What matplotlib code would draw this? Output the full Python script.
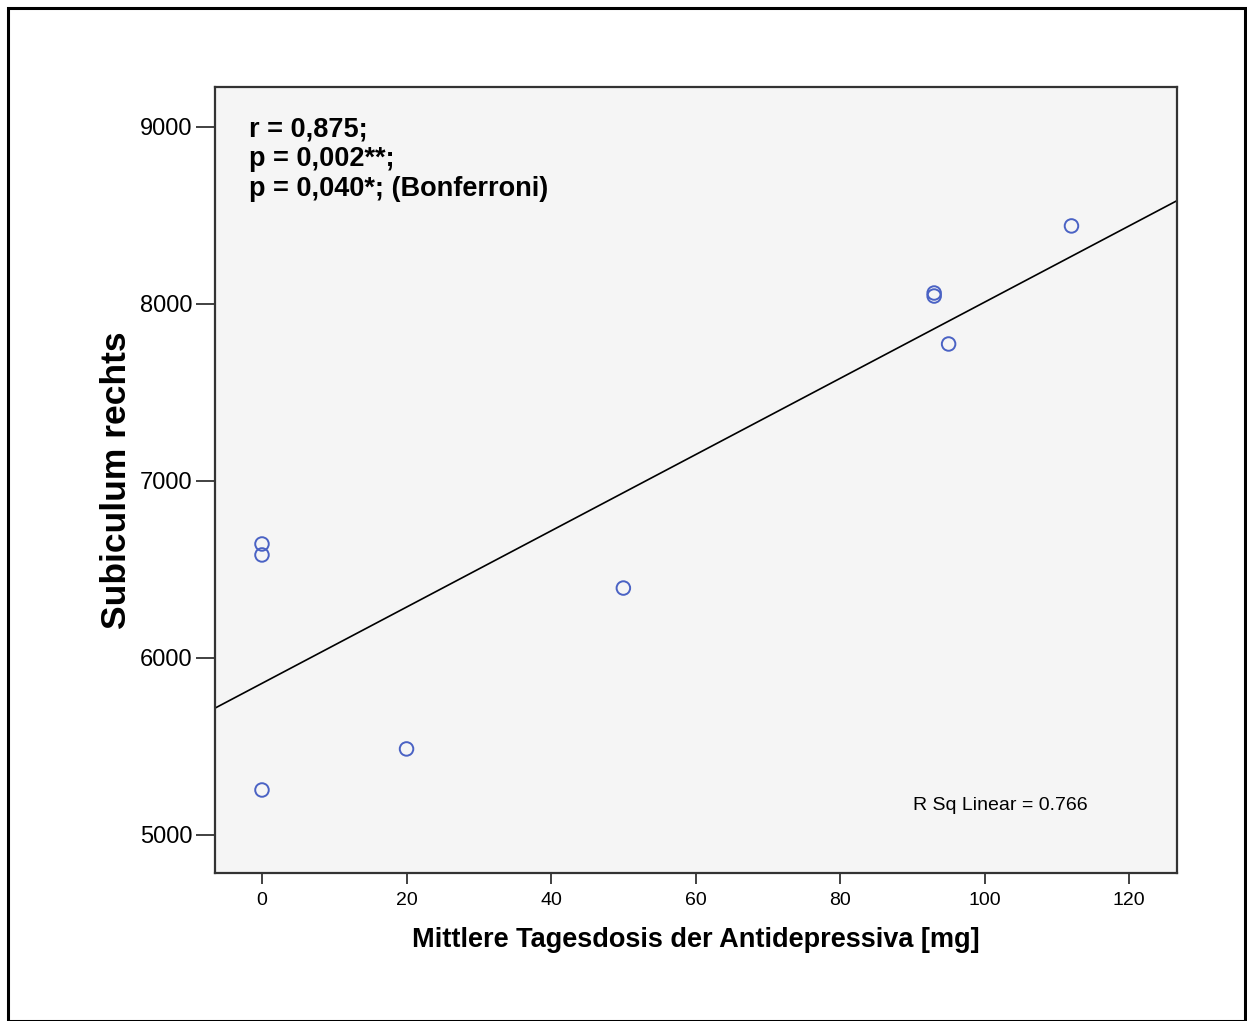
import matplotlib
matplotlib.use("Agg")
import matplotlib.pyplot as plt
import numpy as np
from matplotlib.patches import Rectangle

# Data
dose = [0, 0, 0, 20, 50, 93, 93, 95, 112]
subiculum = [6644, 6582, 5254, 5486, 6395, 8062, 8045, 7774, 8441]
xticks = [0, 20, 40, 60, 80, 100, 120]
yticks = [5000, 6000, 7000, 8000, 9000]
stats_lines = ["r = 0,875;", "p = 0,002**;", "p = 0,040*; (Bonferroni)"]
r2_text = "R Sq Linear = 0.766"
xlabel = "Mittlere Tagesdosis der Antidepressiva [mg]"
ylabel = "Subiculum rechts"

plt.rcParams['font.family'] = ['Liberation Sans', 'DejaVu Sans']

W, H = 1247, 1021
fig = plt.figure(figsize=(W / 100, H / 100), dpi=100)
fig.patch.set_facecolor('white')

# outer frame
fig.patches.append(Rectangle((8 / W, 0), (1245 - 8) / W, (H - 8) / H,
                             transform=fig.transFigure, fill=False,
                             edgecolor='black', linewidth=2.2))

ax = fig.add_axes([215 / W, 1 - 873 / H, (1177 - 215) / W, (873 - 87) / H])
ax.set_facecolor('#f5f5f5')

ax.set_xlim(-6.5, 126.6)
ax.set_ylim(4785, 9226)

# regression line
slope, intercept = np.polyfit(dose, subiculum, 1)
xl = np.array(ax.get_xlim())
ax.plot(xl, intercept + slope * xl, color='black', linewidth=1.2, zorder=2)

ax.scatter(dose, subiculum, s=95, facecolors='none', edgecolors='#4a62c4',
           linewidths=1.4, zorder=3)

ax.set_xticks(xticks)
ax.set_yticks(yticks)
ax.set_xticklabels([str(t) for t in xticks], fontsize=14)
ax.set_yticklabels([str(t) for t in yticks], fontsize=17)
ax.tick_params(axis='x', length=8, width=1.3, color='#333333', pad=6)
ax.tick_params(axis='y', length=14, width=1.3, color='#333333', pad=2)

for s in ax.spines.values():
    s.set_color('#333333')
    s.set_linewidth(1.6)

ax_w = 1177 - 215
ax_h = 873 - 87
for i, line in enumerate(stats_lines):
    ycen = 127 + i * 29.5
    ax.text((249 - 215) / ax_w, (873 - ycen) / ax_h, line,
            transform=ax.transAxes, fontsize=19.5, fontweight='bold',
            va='center_baseline', ha='left')
ax.text((913 - 215) / ax_w, (873 - 806) / ax_h, r2_text,
        transform=ax.transAxes, fontsize=14, va='center', ha='left')

fig.text(696 / W, 1 - 940 / H, xlabel, fontsize=19.5, fontweight='bold', ha='center', va='center')
fig.text(117 / W, 1 - 480 / H, ylabel, fontsize=25.5, fontweight='bold', ha='center', va='center',
         rotation=90)

fig.savefig('out.png', dpi=100, facecolor='white')
